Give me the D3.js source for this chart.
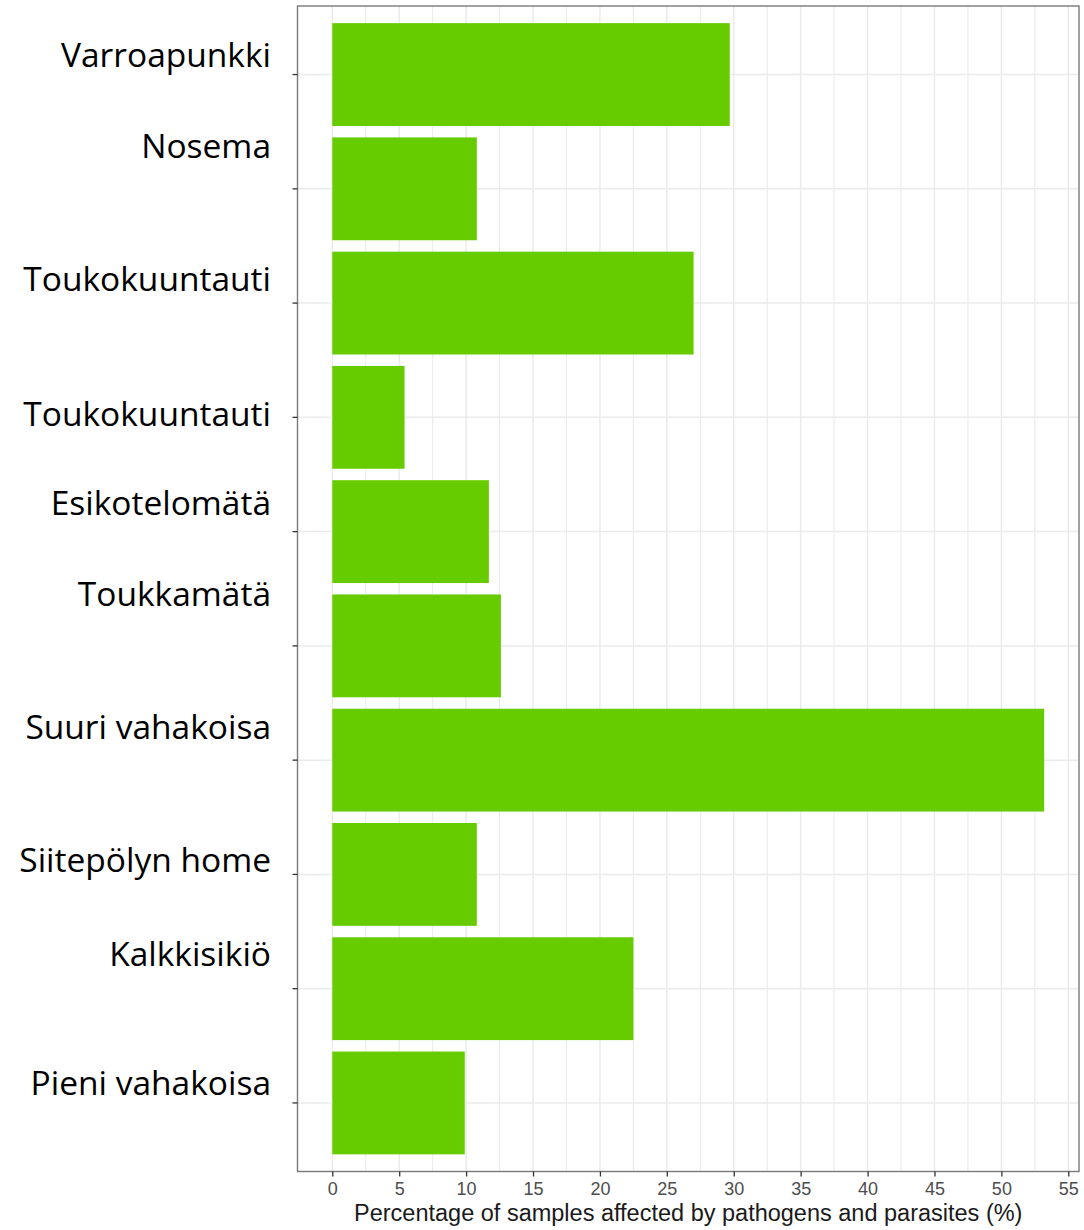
<!DOCTYPE html>
<html>
<head>
<meta charset="utf-8">
<script src="https://cdn.jsdelivr.net/npm/d3@7"></script>
<style>
  body { margin: 0; background: #fff; }
</style>
</head>
<body>
<div id="bar_chart"></div>
<script>
  // categories, top to bottom
  var categories = ["Varroapunkki", "Nosema", "Toukokuuntauti", "Toukokuuntauti ", "Esikotelomätä",
    "Toukkamätä", "Suuri vahakoisa", "Siitepölyn home", "Kalkkisikiö", "Pieni vahakoisa"];
  var values = [29.7, 10.8, 27.0, 5.4, 11.7, 12.6, 53.2, 10.8, 22.5, 9.9];
  var xTicks = [0, 5, 10, 15, 20, 25, 30, 35, 40, 45, 50, 55];
  var xTitle = "Percentage of samples affected by pathogens and parasites (%)";

  // label baseline offsets from the tick (labels were placed by hand in the original)
  var labelNudge = [-8, -31, -12, 9, -17, -40, -21, -2, -23, -8];

  var W = 1084, H = 1230;
  var panel = { left: 297.5, right: 1079, top: 6, bottom: 1171.5 };

  var svg = d3.select("#bar_chart")
    .append("svg")
    .attr("width", W)
    .attr("height", H);

  var x = d3.scaleLinear()
    .domain([-2.6, 55.8])
    .range([panel.left, panel.right]);

  var y = d3.scalePoint()
    .domain(categories)
    .range([panel.top, panel.bottom])
    .padding(0.6);

  var barH = y.step() * 0.9;

  // grid
  var minor = d3.range(0, 56, 2.5);
  svg.append("g").selectAll("line")
    .data(minor)
    .enter().append("line")
    .attr("x1", function(d) { return x(d); })
    .attr("x2", function(d) { return x(d); })
    .attr("y1", panel.top)
    .attr("y2", panel.bottom)
    .style("stroke", "#ebebeb")
    .style("stroke-width", function(d) { return d % 5 === 0 ? 1.5 : 1.1; });

  svg.append("g").selectAll("line")
    .data(categories)
    .enter().append("line")
    .attr("x1", panel.left)
    .attr("x2", panel.right)
    .attr("y1", function(d) { return y(d); })
    .attr("y2", function(d) { return y(d); })
    .style("stroke", "#ebebeb")
    .style("stroke-width", 1.5);

  // bars
  svg.append("g").selectAll("rect")
    .data(categories)
    .enter().append("rect")
    .attr("x", x(0))
    .attr("y", function(d) { return y(d) - barH / 2; })
    .attr("width", function(d, i) { return x(values[i]) - x(0); })
    .attr("height", barH)
    .style("fill", "#66cc00");

  // panel border
  svg.append("rect")
    .attr("x", panel.left)
    .attr("y", panel.top)
    .attr("width", panel.right - panel.left)
    .attr("height", panel.bottom - panel.top)
    .style("fill", "none")
    .style("stroke", "#7a7a7a")
    .style("stroke-width", 1.4);

  // x axis
  var xAxis = d3.axisBottom(x)
    .tickValues(xTicks)
    .tickSize(5)
    .tickPadding(6);
  var gx = svg.append("g")
    .attr("class", "x axis")
    .attr("transform", "translate(0," + panel.bottom + ")")
    .call(xAxis);
  gx.select(".domain").remove();
  gx.selectAll(".tick line").style("stroke", "#333").style("stroke-width", 1.3);
  gx.selectAll(".tick text")
    .style("font-family", "'Liberation Sans', Arial, sans-serif")
    .style("font-size", "18px")
    .style("fill", "#4d4d4d");

  svg.append("text")
    .attr("x", (panel.left + panel.right) / 2)
    .attr("y", 1221)
    .attr("text-anchor", "middle")
    .style("font-family", "'Liberation Sans', Arial, sans-serif")
    .style("font-size", "23.5px")
    .style("fill", "#1a1a1a")
    .text(xTitle);

  // y axis ticks
  svg.append("g").selectAll("line")
    .data(categories)
    .enter().append("line")
    .attr("x1", panel.left - 5)
    .attr("x2", panel.left)
    .attr("y1", function(d) { return y(d); })
    .attr("y2", function(d) { return y(d); })
    .style("stroke", "#333")
    .style("stroke-width", 1.3);

  // y labels
  svg.append("g").selectAll("text")
    .data(categories)
    .enter().append("text")
    .attr("x", 271)
    .attr("y", function(d, i) { return y(d) + labelNudge[i]; })
    .attr("text-anchor", "end")
    .style("font-family", "'Open Sans', sans-serif")
    .style("font-size", "33.5px")
    .style("fill", "#000")
    .text(function(d) { return d.trim(); });
</script>
</body>
</html>
